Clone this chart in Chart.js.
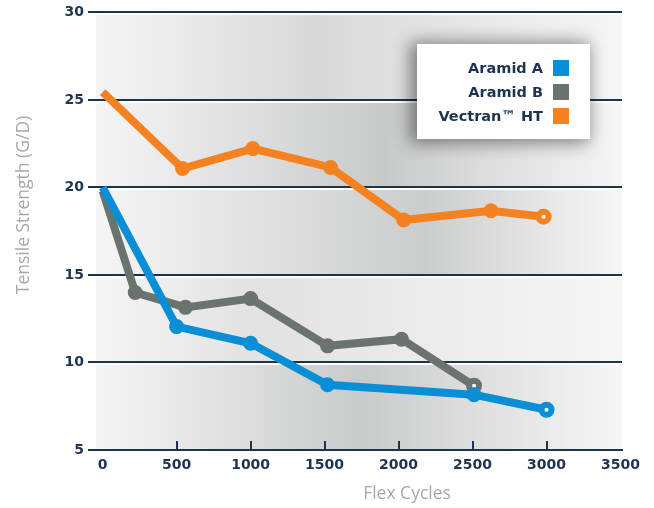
<!DOCTYPE html>
<html>
<head>
<meta charset="utf-8">
<script src="https://cdn.jsdelivr.net/npm/chart.js@4.4.0/dist/chart.umd.min.js"></script>
<style>
  html, body { margin: 0; padding: 0; background: #fff; }
  #wrap { position: relative; width: 654px; height: 508px; }
  #legend {
    position: absolute; left: 417px; top: 44px; width: 173px; height: 95px;
    background: #fff; box-shadow: -4px 1px 16px 3px rgba(0,0,0,0.45);
    font: bold 14.5px "DejaVu Sans"; color: #1d3451;
  }
  #legend .row { position: absolute; right: 21px; height: 16px; display: flex; align-items: center; gap: 10px; white-space: nowrap; }
  #legend .sw { width: 16px; height: 16px; display: inline-block; }
</style>
</head>
<body>
<div id="wrap">
  <canvas id="flexChart" width="654" height="508"></canvas>
  <div id="legend"></div>
</div>
<script>
/* ====== data ====== */
const seriesNames = ['Aramid A', 'Aramid B', 'Vectran™ HT'];
const seriesColors = ['#0a8fd6', '#6b736e', '#f48220'];

const aramidACycles = [0, 500, 1000, 1520, 2510, 3000];
const aramidAStrength = [20, 12.05, 11.1, 8.73, 8.16, 7.3];

const aramidBCycles = [0, 220, 560, 1000, 1520, 2020, 2510];
const aramidBStrength = [19.8, 14.0, 13.15, 13.65, 10.95, 11.33, 8.67];

const vectranCycles = [0, 540, 1015, 1540, 2035, 2625, 2980];
const vectranStrength = [25.45, 21.08, 22.22, 21.14, 18.14, 18.67, 18.33];

const xTicks = [0, 500, 1000, 1500, 2000, 2500, 3000, 3500];
const yTicks = [5, 10, 15, 20, 25, 30];

const xTitle = 'Flex Cycles';
const yTitle = 'Tensile Strength (G/D)';

const navy = '#1d3451';

function toPoints(xs, ys) {
  return xs.map((x, i) => ({ x: x, y: ys[i] }));
}

function lineSet(label, xs, ys, color) {
  const n = xs.length;
  return {
    label: label,
    data: toPoints(xs, ys),
    borderColor: color,
    backgroundColor: color,
    borderWidth: 8,
    tension: 0,
    fill: false,
    pointRadius: ctx => ctx.dataIndex === 0 ? 0 : (ctx.dataIndex === n - 1 ? 5 : 6.5),
    pointBorderWidth: ctx => ctx.dataIndex === n - 1 ? 6 : 2,
    pointBorderColor: color,
    pointBackgroundColor: ctx => ctx.dataIndex === n - 1 ? '#fff' : color
  };
}

// band shading (bottom band first)
const bandShades = [
  { peak: 0.5, dark: '#c9cbca' },
  { peak: 0.3, dark: '#e1e2e1' },
  { peak: 0.62, dark: '#cbcdcc' },
  { peak: 0.55, dark: '#c8cac9' },
  { peak: 0.42, dark: '#d7d8d7' }
];

const backdrop = {
  id: 'backdrop',
  beforeDraw(chart) {
    const { ctx, chartArea: a, scales: { y } } = chart;
    ctx.save();
    for (let i = 0; i < yTicks.length - 1; i++) {
      const yb = y.getPixelForValue(yTicks[i]);
      const yt = y.getPixelForValue(yTicks[i + 1]);
      const s = bandShades[i];
      const g = ctx.createLinearGradient(a.left, 0, a.right, 0);
      g.addColorStop(0, '#f5f5f5');
      g.addColorStop(s.peak, s.dark);
      g.addColorStop(1, '#f6f6f6');
      ctx.fillStyle = g;
      ctx.fillRect(a.left, yt, a.right - a.left, yb - yt);
    }
    ctx.restore();
  },
  beforeDatasetsDraw(chart) {
    const { ctx, chartArea: a, scales: { x, y } } = chart;
    ctx.save();
    // white line under each grid line
    ctx.strokeStyle = '#ffffff';
    ctx.lineWidth = 2;
    yTicks.slice(1).forEach(v => {
      const py = Math.round(y.getPixelForValue(v)) + 2;
      ctx.beginPath();
      ctx.moveTo(a.left, py);
      ctx.lineTo(a.right, py);
      ctx.stroke();
    });
    // small upward ticks on the x axis
    ctx.strokeStyle = navy;
    ctx.lineWidth = 2;
    xTicks.slice(1, -1).forEach(v => {
      const px = Math.round(x.getPixelForValue(v));
      ctx.beginPath();
      ctx.moveTo(px, a.bottom);
      ctx.lineTo(px, a.bottom - 9);
      ctx.stroke();
    });
    ctx.restore();
  },
  afterDraw(chart) {
    const { ctx } = chart;
    ctx.save();
    ctx.fillStyle = '#a8a8a8';
    ctx.font = '17.5px "Open Sans"';
    ctx.textAlign = 'center';
    ctx.textBaseline = 'middle';
    ctx.fillText(xTitle, 407, 494);
    ctx.translate(24, 205);
    ctx.rotate(-Math.PI / 2);
    ctx.fillText(yTitle, 0, 0);
    ctx.restore();
  }
};

const tickFont = { family: 'DejaVu Sans', weight: 'bold', size: 14 };

new Chart(document.getElementById('flexChart'), {
  type: 'line',
  data: {
    datasets: [
      lineSet(seriesNames[0], aramidACycles, aramidAStrength, seriesColors[0]),
      lineSet(seriesNames[1], aramidBCycles, aramidBStrength, seriesColors[1]),
      lineSet(seriesNames[2], vectranCycles, vectranStrength, seriesColors[2])
    ]
  },
  options: {
    responsive: false,
    animation: false,
    layout: { padding: { top: 12, right: 32, left: 0, bottom: 0 } },
    plugins: { legend: { display: false }, tooltip: { enabled: false } },
    scales: {
      x: {
        type: 'linear',
        min: -45,
        max: 3510,
        afterBuildTicks: s => { s.ticks = xTicks.map(v => ({ value: v })); },
        afterFit: s => { s.height = 58; },
        grid: { display: false, drawTicks: false },
        border: { display: true, color: navy, width: 2 },
        ticks: { color: navy, font: tickFont, padding: 7, maxRotation: 0, autoSkip: false, callback: v => String(v) }
      },
      y: {
        min: 5,
        max: 30,
        afterBuildTicks: s => { s.ticks = yTicks.map(v => ({ value: v })); },
        afterFit: s => { s.width = 96; },
        grid: { color: navy, lineWidth: 2, tickLength: 8 },
        border: { display: false },
        ticks: { color: navy, font: tickFont, padding: 4, callback: v => String(v) }
      }
    }
  },
  plugins: [backdrop]
});

// legend box
const legendBox = document.getElementById('legend');
seriesNames.forEach((name, i) => {
  const row = document.createElement('div');
  row.className = 'row';
  row.style.top = (16 + i * 24) + 'px';
  const lbl = document.createElement('span');
  lbl.textContent = name;
  const sw = document.createElement('span');
  sw.className = 'sw';
  sw.style.background = seriesColors[i];
  row.appendChild(lbl);
  row.appendChild(sw);
  legendBox.appendChild(row);
});
</script>
</body>
</html>
